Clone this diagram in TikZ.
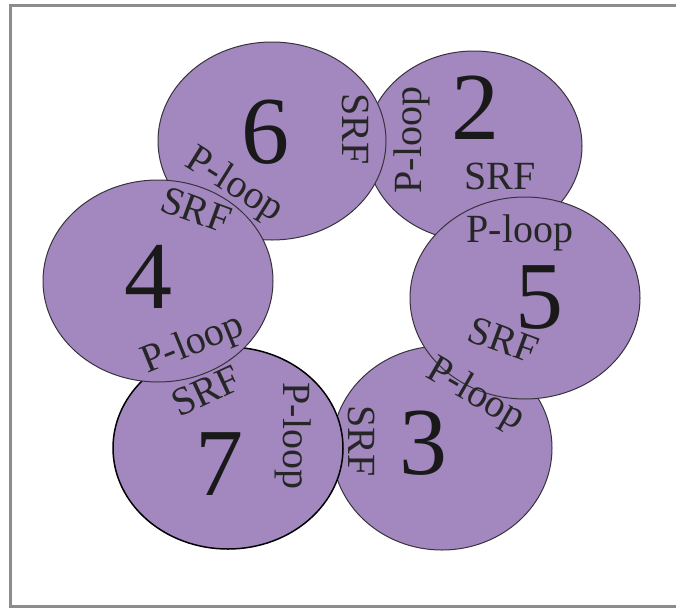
\documentclass[tikz,border=0pt]{standalone}
\usepackage{fontspec}
\setmainfont{Liberation Serif}
\definecolor{lav}{RGB}{163,136,192}
\definecolor{edge}{RGB}{55,50,60}
\definecolor{frame}{RGB}{140,140,140}
\begin{document}
\begin{tikzpicture}[x=1pt,y=-1pt,
  blob/.style={fill=lav,draw=edge,line width=1pt},
  num/.style={font=\fontsize{96}{96}\selectfont,text=black!90,inner sep=0pt},
  lab/.style={font=\fontsize{40}{40}\selectfont,text=black!85,inner sep=0pt}]
\useasboundingbox (0,0) rectangle (676,608);
\fill[white] (0,0) rectangle (676,608);
\draw[frame,line width=3pt] (680,5) -- (10,5) -- (10,606) -- (680,606);
% ellipses (stacking order)
\path[blob] (442,448) coordinate (c3) ellipse [x radius=110, y radius=102];
\path[blob] (474,146) coordinate (c2) ellipse [x radius=108, y radius=95];
\path[blob,draw=black,line width=1.5pt] (228,448) coordinate (c7) ellipse [x radius=115, y radius=101];
\path[blob] (272,141) coordinate (c6) ellipse [x radius=114, y radius=99];
\path[blob] (158,281) coordinate (c4) ellipse [x radius=115, y radius=101];
\path[blob] (525,298) coordinate (c5) ellipse [x radius=115, y radius=101];
% ellipse 6
\node[num] (n6) at (265,132) {6};
\node[lab,rotate=-90] (s6) at (356,129) {SRF};
\node[lab,rotate=-32] (p6) at (234,186) {P-loop};
% ellipse 2
\node[num] (n2) at (475,108) {2};
\node[lab,rotate=90] (p2) at (412,140) {P-loop};
\node[lab] (s2) at (500,176) {SRF};
% ellipse 4
\node[lab,rotate=-20] (s4) at (196,210) {SRF};
\node[num] (n4) at (148,277) {4};
\node[lab,rotate=22] (p4) at (193,345) {P-loop};
% ellipse 5
\node[lab] (p5) at (520,233) {P-loop};
\node[num] (n5) at (539,298) {5};
\node[lab,rotate=-20] (s5) at (503,340) {SRF};
% ellipse 7
\node[lab,rotate=25] (s7) at (206,391) {SRF};
\node[num] (n7) at (219,464) {7};
\node[lab,rotate=-90] (p7) at (293,436) {P-loop};
% ellipse 3
\node[lab,rotate=-90] (s3) at (362,441) {SRF};
\node[num] (n3) at (423,443) {3};
\node[lab,rotate=-30] (p3) at (475,395) {P-loop};
\end{tikzpicture}
\end{document}
